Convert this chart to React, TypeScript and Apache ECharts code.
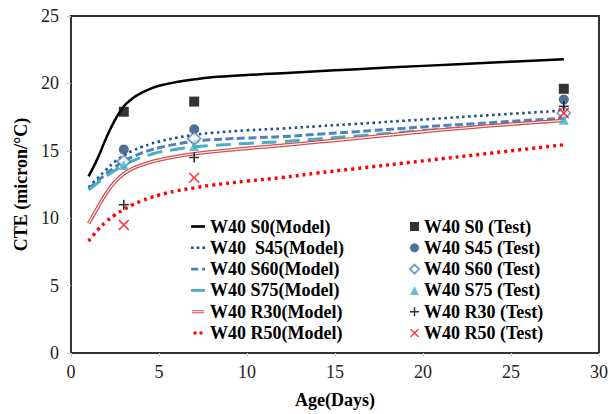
import React, { useEffect, useRef } from "react";
import * as echarts from "echarts";

const modelDays = [1, 1.5, 2, 2.5, 3, 3.5, 4, 4.5, 5, 6, 7, 8, 10, 12, 14, 16, 20, 24, 28];
const s0Model = [13.1, 14.4, 15.95, 17.3, 18.3, 18.9, 19.3, 19.6, 19.82, 20.1, 20.3, 20.45, 20.62, 20.76, 20.9, 21.04, 21.3, 21.55, 21.8];
const s45Model = [12.3, 12.95, 13.6, 14.2, 14.65, 15.0, 15.28, 15.5, 15.68, 15.97, 16.18, 16.33, 16.52, 16.65, 16.82, 16.98, 17.32, 17.66, 17.98];
const s60Model = [12.2, 12.75, 13.3, 13.8, 14.22, 14.55, 14.83, 15.05, 15.23, 15.5, 15.7, 15.82, 15.95, 16.05, 16.23, 16.4, 16.77, 17.1, 17.42];
const s75Model = [12.1, 12.6, 13.1, 13.55, 13.95, 14.25, 14.52, 14.72, 14.9, 15.12, 15.28, 15.39, 15.55, 15.68, 15.88, 16.08, 16.5, 16.87, 17.25];
const r30Model = [9.6, 10.75, 11.85, 12.7, 13.3, 13.68, 13.95, 14.15, 14.32, 14.58, 14.78, 14.93, 15.18, 15.4, 15.65, 15.9, 16.42, 16.88, 17.25];
const r50Model = [8.3, 9.1, 9.75, 10.25, 10.65, 11.0, 11.28, 11.52, 11.72, 12.03, 12.25, 12.45, 12.75, 13.02, 13.35, 13.65, 14.25, 14.85, 15.45];

const testDays = [3, 7, 28];
const s0Test = [17.9, 18.65, 19.6];
const s45Test = [15.1, 16.6, 18.8];
const s60Test = [14.2, 15.9, 17.8];
const s75Test = [13.95, 15.35, 17.3];
const r30Test = [11.0, 14.5, 18.3];
const r50Test = [9.5, 13.0, 17.8];

const modelNames = [
  "W40 S0(Model)",
  "W40  S45(Model)",
  "W40 S60(Model)",
  "W40 S75(Model)",
  "W40 R30(Model)",
  "W40 R50(Model)",
];
const testNames = [
  "W40 S0 (Test)",
  "W40 S45 (Test)",
  "W40 S60 (Test)",
  "W40 S75 (Test)",
  "W40 R30 (Test)",
  "W40 R50 (Test)",
];

const xTicks = { min: 0, max: 30, interval: 5 };
const yTicks = { min: 0, max: 25, interval: 5 };

const FONT = '"Liberation Serif", "Times New Roman", serif';

const pair = (xs: number[], ys: number[]) => xs.map((x, i) => [x, ys[i]]);

const plusPath = "path://M4.2,0H5.8V4.2H10V5.8H5.8V10H4.2V5.8H0V4.2H4.2Z";
const crossPath = "path://M0,1L1,0L5,4L9,0L10,1L6,5L10,9L9,10L5,6L1,10L0,9L4,5Z";

const modelIcons = [
  "path://M0,0H14V2.6H0Z",
  "path://M0,0H2.6V2.6H0Z M5.7,0H8.3V2.6H5.7Z M11.4,0H14V2.6H11.4Z",
  "path://M0,0H7V2.8H0Z M10.5,0H13.5V2.8H10.5Z",
  "path://M0,0H14V2.8H0Z",
  "path://M0,0H14V1.2H0Z M0,2.2H14V3.4H0Z",
  "path://M1.5,0H5V3.5H1.5Z M8.5,0H12V3.5H8.5Z",
];

export default function App() {
  const ref = useRef<HTMLDivElement>(null);
  useEffect(() => {
    if (!ref.current) return;
    const chart = echarts.init(ref.current, undefined, { renderer: "svg" });
    const line = (name: string, data: number[], color: string, width: number, type: any) => ({
      name,
      type: "line",
      data: pair(modelDays, data),
      symbol: "none",
      smooth: 0.4,
      lineStyle: { color, width, type },
      itemStyle: { color },
      z: 2,
    });
    const scatter = (name: string, data: number[], symbol: string, size: number, color: string, hollow = false) => ({
      name,
      type: "scatter",
      data: pair(testDays, data),
      symbol,
      symbolSize: size,
      itemStyle: hollow
        ? { color: "#fff", borderColor: color, borderWidth: 1.6 }
        : { color },
      z: 5,
    });
    const legendText = { fontFamily: FONT, fontSize: 18, fontWeight: "bold", color: "#000", lineHeight: 18 };
    const frameLine = { show: true, onZero: false, lineStyle: { color: "#333333", width: 2 } };
    const hiddenAxis = {
      type: "value",
      axisLine: frameLine,
      axisTick: { show: false },
      axisLabel: { show: false },
      splitLine: { show: false },
    };
    chart.setOption({
      animation: false,
      backgroundColor: "#fff",
      grid: {
        left: 71,
        right: 12,
        top: 16,
        bottom: 57,
        show: true,
        backgroundColor: "rgba(255,255,255,0)",
        borderColor: "#333333",
        borderWidth: 2,
      },
      legend: [
        {
          data: modelNames.map((n, i) => ({ name: n, icon: modelIcons[i] })),
          orient: "vertical",
          left: 191,
          top: 217.5,
          padding: 0,
          itemWidth: 14,
          itemHeight: 3,
          itemGap: 3.3,
          itemStyle: { borderWidth: 0 },
          textStyle: legendText,
        },
        {
          data: testNames,
          orient: "vertical",
          left: 409,
          top: 217.5,
          padding: 0,
          itemWidth: 9,
          itemHeight: 9,
          itemGap: 3.3,
          textStyle: legendText,
        },
      ],
      xAxis: [
        {
          type: "value",
          ...xTicks,
          name: "Age(Days)",
          nameLocation: "middle",
          nameGap: 38,
          nameTextStyle: { fontFamily: FONT, fontSize: 18, fontWeight: "bold", color: "#000" },
          axisLine: frameLine,
          axisTick: { show: true, length: 4, lineStyle: { color: "#c8c8c8", width: 1 } },
          axisLabel: { fontFamily: FONT, fontSize: 18, color: "#222", margin: 10 },
          splitLine: { show: false },
        },
        { ...hiddenAxis, ...xTicks, position: "top" },
      ],
      yAxis: [
        {
          type: "value",
          ...yTicks,
          name: "CTE (micron/°C)",
          nameLocation: "middle",
          nameGap: 27,
          nameTextStyle: { fontFamily: FONT, fontSize: 18, fontWeight: "bold", color: "#000" },
          axisLine: frameLine,
          axisTick: { show: true, length: 4, lineStyle: { color: "#c8c8c8", width: 1 } },
          axisLabel: { fontFamily: FONT, fontSize: 18, color: "#222", margin: 12 },
          splitLine: { show: false },
        },
        { ...hiddenAxis, ...yTicks, position: "right" },
      ],
      series: [
        line(modelNames[0], s0Model, "#000000", 2.5, "solid"),
        line(modelNames[1], s45Model, "#1F4E8C", 2.6, [2.5, 3.5]),
        line(modelNames[2], s60Model, "#4F81BD", 3, [8, 3.5]),
        line(modelNames[3], s75Model, "#4BACC6", 3, [15, 8]),
        line(modelNames[4], r30Model, "#D2504D", 3.6, "solid"),
        {
          name: "r30inner",
          type: "line",
          data: pair(modelDays, r30Model),
          symbol: "none",
          smooth: 0.4,
          lineStyle: { color: "#ffffff", width: 1.1 },
          z: 3,
          silent: true,
        },
        line(modelNames[5], r50Model, "#FF0000", 3.4, [3, 4]),
        scatter(testNames[0], s0Test, "rect", 10, "#000000"),
        scatter(testNames[1], s45Test, "circle", 10, "#1F4E79"),
        scatter(testNames[2], s60Test, "diamond", 13, "#4F81BD", true),
        scatter(testNames[3], s75Test, "triangle", 10, "#4BACC6"),
        scatter(testNames[4], r30Test, plusPath, 10, "#000000"),
        scatter(testNames[5], r50Test, crossPath, 11, "#FF0000"),
      ],
    });
    return () => chart.dispose();
  }, []);
  return (
    <div
      ref={ref}
      style={{ position: "fixed", left: 0, top: 0, width: 611, height: 414, background: "#fff" }}
    />
  );
}
